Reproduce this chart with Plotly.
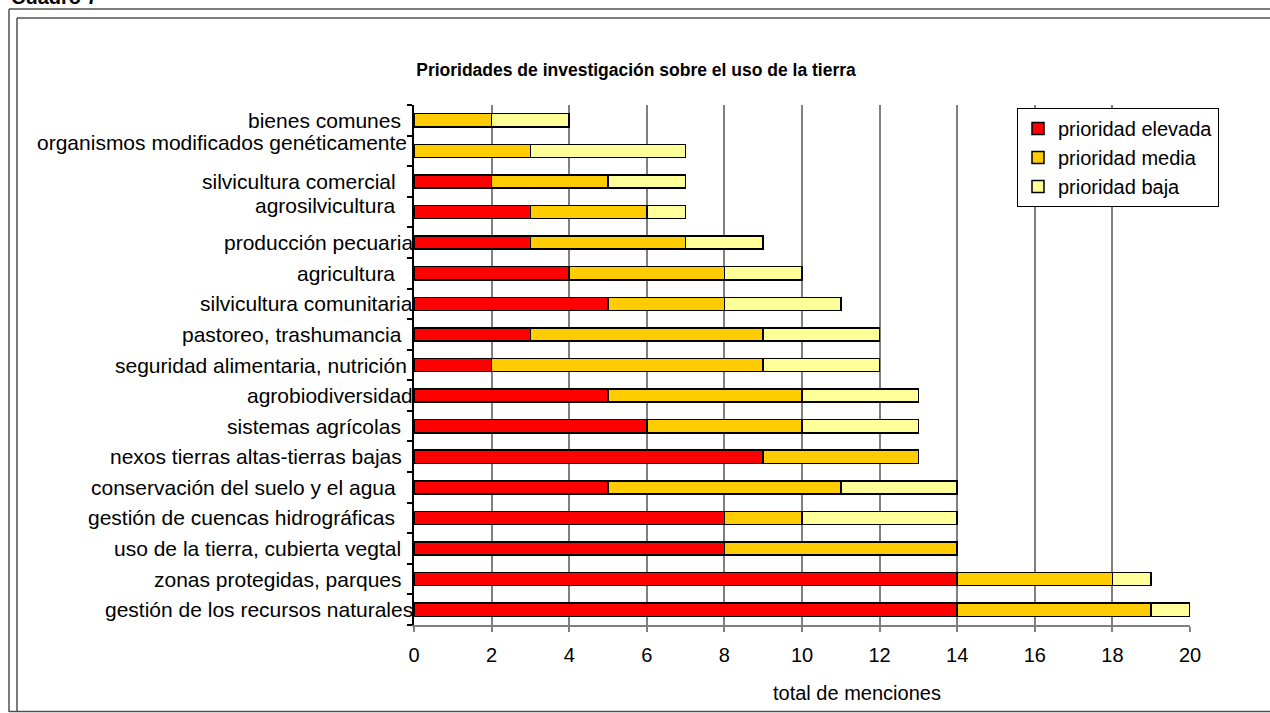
import plotly.graph_objects as go

# ---------------- data (bottom -> top) ----------------
categories = [
    "gestión de los recursos naturales",
    "zonas protegidas, parques",
    "uso de la tierra, cubierta vegtal",
    "gestión de cuencas hidrográficas",
    "conservación del suelo y el agua",
    "nexos tierras altas-tierras bajas",
    "sistemas agrícolas",
    "agrobiodiversidad",
    "seguridad alimentaria, nutrición",
    "pastoreo, trashumancia",
    "silvicultura comunitaria",
    "agricultura",
    "producción pecuaria",
    "agrosilvicultura",
    "silvicultura comercial",
    "organismos modificados genéticamente",
    "bienes comunes",
]
# category labels as printed (original labels carry trailing spaces)
tick_labels = [
    "gestión de los recursos naturales",
    "zonas protegidas, parques\u00a0\u00a0",
    "uso de la tierra, cubierta vegtal\u00a0\u00a0",
    "gestión de cuencas hidrográficas\u00a0\u00a0\u00a0",
    "conservación del suelo y el agua\u00a0\u00a0\u00a0",
    "nexos tierras altas-tierras bajas\u00a0\u00a0",
    "sistemas agrícolas\u00a0\u00a0",
    "agrobiodiversidad",
    "seguridad alimentaria, nutrición\u00a0",
    "pastoreo, trashumancia\u00a0\u00a0",
    "silvicultura comunitaria",
    "agricultura\u00a0\u00a0\u00a0",
    "producción pecuaria",
    "agrosilvicultura\u00a0\u00a0\u00a0",
    "silvicultura comercial\u00a0\u00a0\u00a0",
    "organismos modificados genéticamente\u00a0",
    "bienes comunes\u00a0\u00a0",
]
elevada = [14, 14, 8, 8, 5, 9, 6, 5, 2, 3, 5, 4, 3, 3, 2, 0, 0]
media   = [5, 4, 6, 2, 6, 4, 4, 5, 7, 6, 3, 4, 4, 3, 3, 3, 2]
baja    = [1, 1, 0, 4, 3, 0, 3, 3, 3, 3, 3, 2, 2, 1, 2, 4, 2]

series_names = ["prioridad elevada", "prioridad media", "prioridad baja"]
x_ticks = [0, 2, 4, 6, 8, 10, 12, 14, 16, 18, 20]

title_text = "Prioridades de investigación sobre el uso de la tierra"
x_title = "total de menciones"
corner_text = "Cuadro 7"

# ---------------- style ----------------
FONT = "Liberation Sans, Arial, sans-serif"
colors = ["#FF0000", "#FFCC00", "#FFFF99"]
label_yshift = {"organismos modificados genéticamente": 8, "agrosilvicultura": 7}

W, H = 1270, 713
PL, PR, PT, PB = 414, 1190, 105, 625


def px(x):
    return (x - PL) / (PR - PL)


def py(y):
    return (PB - y) / (PB - PT)


fig = go.Figure()
for name, vals, col in zip(series_names, [elevada, media, baja], colors):
    fig.add_trace(go.Bar(
        y=categories, x=vals, name=name, orientation="h",
        marker=dict(color=col, line=dict(color="black", width=1.5)),
    ))

annotations = []
for cat, lab in zip(categories, tick_labels):
    annotations.append(dict(
        x=0, xref="paper", y=cat, yref="y", text=lab, showarrow=False,
        xanchor="right", yanchor="middle", xshift=1,
        yshift=label_yshift.get(cat, 0),
        font=dict(family=FONT, size=21, color="black"),
    ))
annotations.append(dict(
    x=px(857), xref="paper", y=py(693), yref="paper", text=x_title,
    showarrow=False, xanchor="center", yanchor="middle",
    font=dict(family=FONT, size=20, color="black"),
))
# page caption, cropped at the top edge as in the original
annotations.append(dict(
    x=px(9), xref="paper", y=py(10), yref="paper", text="<b>" + corner_text + "</b>",
    showarrow=False, xanchor="left", yanchor="bottom",
    font=dict(family=FONT, size=20, color="black"),
))

line_col = "#505050"
shapes = []
# outer frame
shapes.append(dict(type="line", xref="paper", yref="paper", x0=px(9), x1=px(1290), y0=py(9), y1=py(9),
                   line=dict(color=line_col, width=1.5)))
shapes.append(dict(type="line", xref="paper", yref="paper", x0=px(9), x1=px(9), y0=py(9), y1=py(712),
                   line=dict(color=line_col, width=1.5)))
# inner frame
shapes.append(dict(type="line", xref="paper", yref="paper", x0=px(17), x1=px(1290), y0=py(18), y1=py(18),
                   line=dict(color=line_col, width=1.5)))
shapes.append(dict(type="line", xref="paper", yref="paper", x0=px(17), x1=px(17), y0=py(18), y1=py(712),
                   line=dict(color=line_col, width=1.5)))
# bottom
shapes.append(dict(type="line", xref="paper", yref="paper", x0=px(9), x1=px(1290), y0=py(711.5), y1=py(711.5),
                   line=dict(color=line_col, width=1.5)))

fig.update_layout(
    width=W, height=H,
    margin=dict(l=PL, r=W - PR, t=PT, b=H - PB, pad=0),
    paper_bgcolor="white", plot_bgcolor="white",
    barmode="stack", bargap=0.57,
    font=dict(family=FONT, size=20, color="black"),
    title=dict(text="<b>" + title_text + "</b>", x=636 / W, xref="container", xanchor="center",
               y=1 - 70 / H, yref="container", yanchor="middle",
               font=dict(family=FONT, size=17.5, color="black")),
    xaxis=dict(range=[0, 20], tickvals=x_ticks, ticktext=[str(v) for v in x_ticks],
               showgrid=True, gridcolor="#808080", gridwidth=1.5,
               showline=True, linecolor="#808080", linewidth=1.5,
               ticks="outside", ticklen=5, tickcolor="#808080", tickwidth=1.5,
               ticklabelstandoff=6, zeroline=False,
               tickfont=dict(family=FONT, size=20, color="black")),
    yaxis=dict(type="category", categoryorder="array", categoryarray=categories,
               showticklabels=False, showgrid=False, zeroline=False,
               showline=True, linecolor="black", linewidth=1.5,
               ticks="outside", tickson="boundaries", ticklen=5, tickcolor="black", tickwidth=1.5),
    legend=dict(x=px(1017), y=py(108), xanchor="left", yanchor="top",
                traceorder="normal", bgcolor="white", bordercolor="black", borderwidth=1,
                font=dict(family=FONT, size=20, color="black")),
    annotations=annotations,
    shapes=shapes,
    showlegend=True,
)

fig.write_html("out.html",
               config={"displayModeBar": False},
               post_script="document.body.style.margin='0';document.body.style.overflow='hidden';")
